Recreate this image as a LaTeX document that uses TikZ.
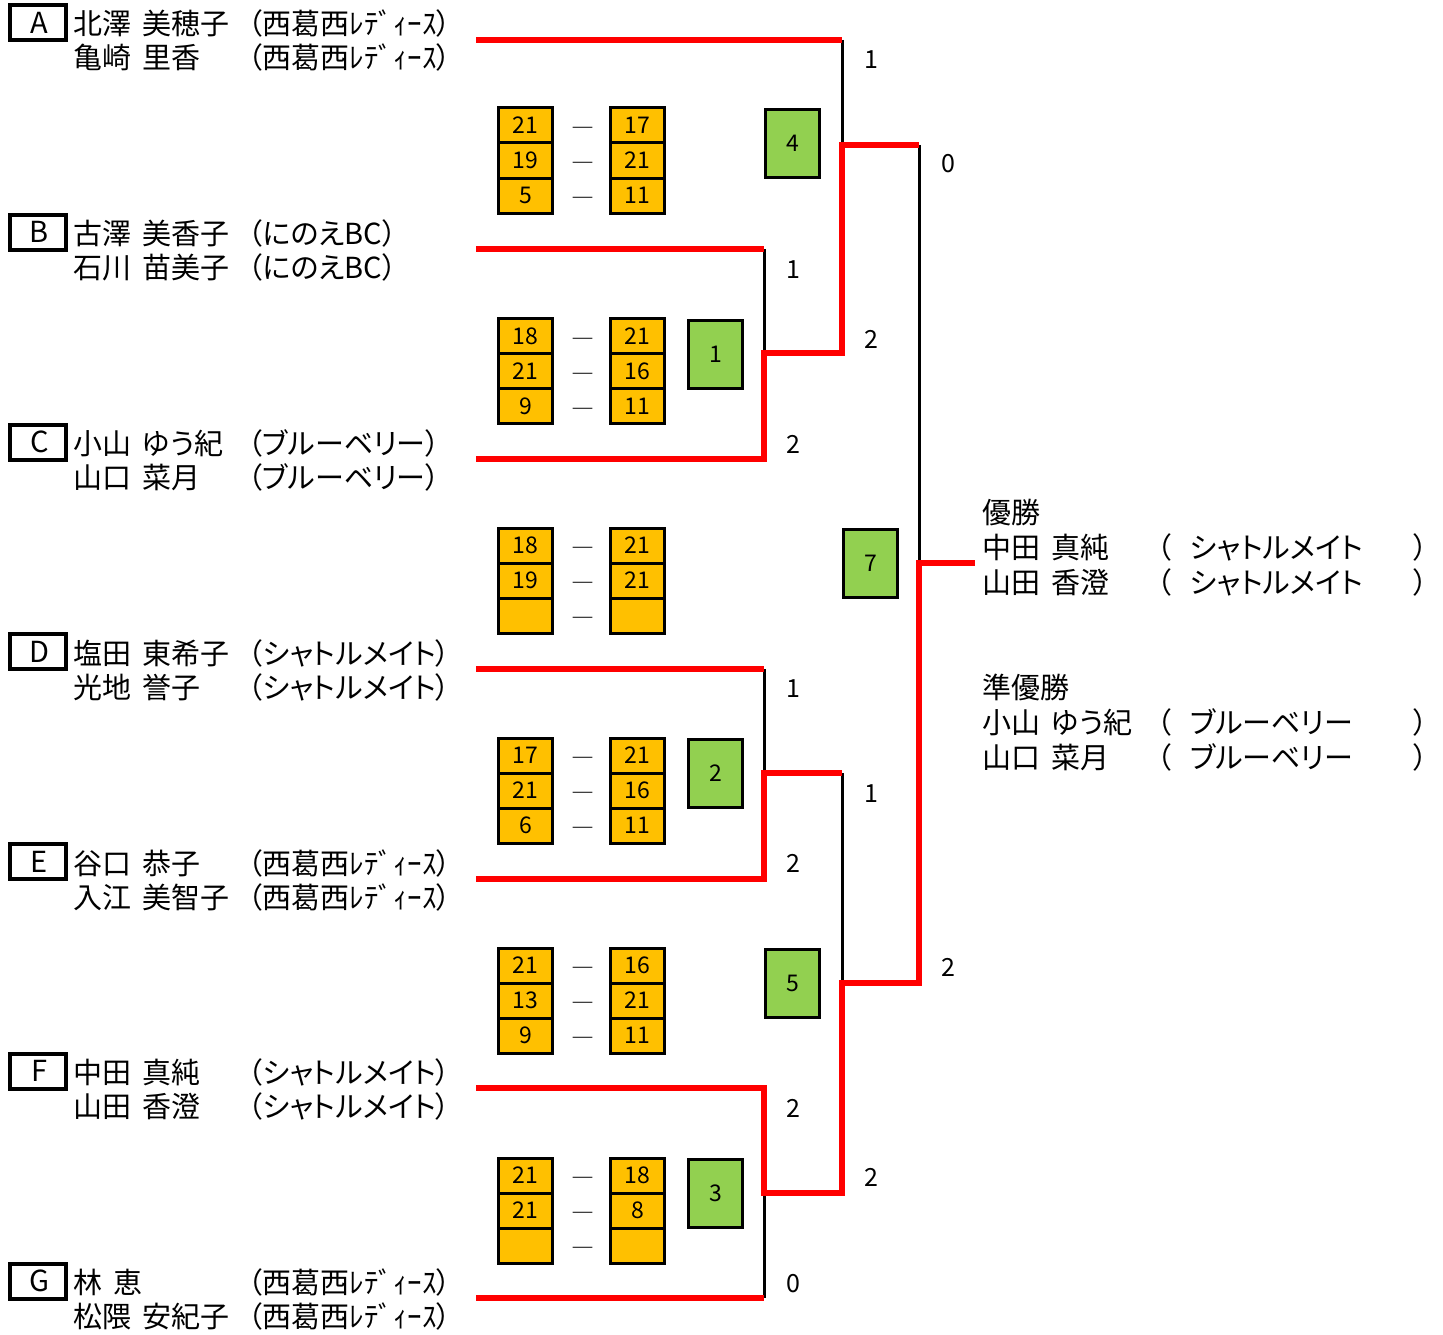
\documentclass[tikz,border=0pt]{standalone}
\usepackage{fontspec}
\setmainfont{Noto Sans CJK JP}[RawFeature=+palt]
\definecolor{scoreorange}{HTML}{FFC000}
\definecolor{wingreen}{HTML}{92D050}
\definecolor{bracketred}{HTML}{FF0000}
\newcommand\fsN{\fontsize{29}{34}\selectfont}
\newcommand\fsS{\fontsize{23}{27}\selectfont}
\newcommand\fsL{\fontsize{25}{29}\selectfont}
\newcommand\gap{\hspace{11pt}}
\begin{document}
\begin{tikzpicture}[x=1pt,y=-1pt,
  pltext/.style={inner sep=0pt, anchor=west, font=\fsN, text height=25.5pt, text depth=3.5pt},
  letterbox/.style={draw, line width=4pt, minimum width=56pt, minimum height=35pt, inner sep=0pt, font=\fsN},
  cell/.style={draw, line width=3pt, fill=scoreorange, minimum width=54pt, minimum height=35pt, inner sep=0pt, font=\fsS, text height=16.8pt, text depth=0pt},
  winbox/.style={draw, line width=3pt, fill=wingreen, minimum width=54pt, minimum height=68pt, inner sep=0pt, font=\fsS, text height=16.8pt, text depth=0pt},
  dashlbl/.style={inner sep=0pt, font=\fsS},
  lbl/.style={inner sep=0pt, font=\fsL, text height=18.3pt, text depth=0pt},
  redline/.style={draw=bracketred, line width=6pt, line join=miter},
  blackline/.style={draw=black, line width=3pt}]
\fill[white] (0,0) rectangle (1443,1335);
\useasboundingbox (0,0) rectangle (1443,1335);

% players
\foreach \L/\i/\na/\nb/\tm in {
  A/0/北澤\gap 美穂子/亀崎\gap 里香/（西葛西ﾚﾃﾞｨｰｽ）,
  B/1/古澤\gap 美香子/石川\gap 苗美子/（にのえBC）,
  C/2/小山\gap ゆう紀/山口\gap 菜月/（ブルーベリー）,
  D/3/塩田\gap 東希子/光地\gap 誉子/（シャトルメイト）,
  E/4/谷口\gap 恭子/入江\gap 美智子/（西葛西ﾚﾃﾞｨｰｽ）,
  F/5/中田\gap 真純/山田\gap 香澄/（シャトルメイト）,
  G/6/林\gap 恵/松隈\gap 安紀子/（西葛西ﾚﾃﾞｨｰｽ）}{
  \pgfmathsetmacro\yy{22.5+209.75*\i}
  \node[letterbox] (box\L) at (38,\yy) {\hspace{3pt}\L};
  \node[pltext] (n\L a) at (73,\yy+1.5) {\na};
  \node[pltext] (n\L b) at (73,\yy+35.5) {\nb};
  \node[pltext] (t\L a) at (248,\yy+1.5) {\tm};
  \node[pltext] (t\L b) at (248,\yy+35.5) {\tm};
}

% bracket coordinates
\coordinate (pA) at (476,40);   \coordinate (jA) at (842,40);
\coordinate (pB) at (476,249);  \coordinate (jB) at (764,249);
\coordinate (pC) at (476,459);  \coordinate (jC) at (764,459);
\coordinate (pD) at (476,669);  \coordinate (jD) at (764,669);
\coordinate (pE) at (476,879);  \coordinate (jE) at (764,879);
\coordinate (pF) at (476,1088); \coordinate (jF) at (764,1088);
\coordinate (pG) at (476,1298); \coordinate (jG) at (764,1298);
\coordinate (m1) at (764,353);  \coordinate (m1r) at (842,353);
\coordinate (m2) at (764,773);  \coordinate (m2r) at (842,773);
\coordinate (m3) at (764,1193); \coordinate (m3r) at (842,1193);
\coordinate (m4) at (842,145);  \coordinate (m4r) at (919,145);
\coordinate (m5) at (842,983);  \coordinate (m5r) at (919,983);
\coordinate (m7) at (919,563);  \coordinate (m7r) at (975,563);

% black (losing) lines
\draw[blackline] (jA) -- (m4);
\draw[blackline] (jB) -- (m1);
\draw[blackline] (jD) -- (m2);
\draw[blackline] (jG) -- (m3);
\draw[blackline] (m2r) -- (m5);
\draw[blackline] (m4r) -- (m7);

% red lines
\draw[redline] (pA) -- (jA);
\draw[redline] (pB) -- (jB);
\draw[redline] (pC) -- (jC) -- (m1) -- (m1r) -- (m4) -- (m4r);
\draw[redline] (pD) -- (jD);
\draw[redline] (pE) -- (jE) -- (m2) -- (m2r);
\draw[redline] (pF) -- (jF) -- (m3) -- (m3r) -- (m5) -- (m5r) -- (m7) -- (m7r);
\draw[redline] (pG) -- (jG);

% bracket score labels
\node[lbl] (sA)  at (871,59)   {1};
\node[lbl] (s4a) at (948,163)  {0};
\node[lbl] (sB)  at (793,269)  {1};
\node[lbl] (s1w) at (871,339)  {2};
\node[lbl] (sC)  at (793,444)  {2};
\node[lbl] (sD)  at (793,688)  {1};
\node[lbl] (s2w) at (871,793)  {1};
\node[lbl] (sE)  at (793,863)  {2};
\node[lbl] (s5w) at (948,967)  {2};
\node[lbl] (sF)  at (793,1108) {2};
\node[lbl] (s3w) at (871,1177) {2};
\node[lbl] (sG)  at (793,1283) {0};

% score tables
\foreach \m/\T/\a/\b/\c/\d/\e/\f/\gx/\num in {
  M4/108/21/17/19/21/5/11/792.5/4,
  M1/318.5/18/21/21/16/9/11/715.5/1,
  M7/528/18/21/19/21/{}/{}/870.5/7,
  M2/738/17/21/21/16/6/11/715.5/2,
  M5/948/21/16/13/21/9/11/792.5/5,
  M3/1158/21/18/21/8/{}/{}/715.5/3}{
  \node[cell] (\m l1) at (525.5,\T+17.5) {\a};
  \node[cell] (\m l2) at (525.5,\T+52.5) {\c};
  \node[cell] (\m l3) at (525.5,\T+87.5) {\e};
  \node[cell] (\m r1) at (637.5,\T+17.5) {\b};
  \node[cell] (\m r2) at (637.5,\T+52.5) {\d};
  \node[cell] (\m r3) at (637.5,\T+87.5) {\f};
  \node[dashlbl] (\m d1) at (583,\T+24) {―};
  \node[dashlbl] (\m d2) at (583,\T+59) {―};
  \node[dashlbl] (\m d3) at (583,\T+94) {―};
  \node[winbox] (\m w) at (\gx,\T+35.5) {\num};
}

% results
\node[pltext] (champ) at (982,512) {優勝};
\node[pltext] (ch1) at (982,547) {中田\gap 真純};
\node[pltext] (ch2) at (982,582) {山田\gap 香澄};
\node[pltext] (ch1o) at (1157,547) {（};
\node[pltext] (ch2o) at (1157,582) {（};
\node[pltext] (ch1t) at (1190,547) {シャトルメイト};
\node[pltext] (ch2t) at (1190,582) {シャトルメイト};
\node[pltext,anchor=east] (ch1c) at (1428,547) {）};
\node[pltext,anchor=east] (ch2c) at (1428,582) {）};
\node[pltext] (runner) at (982,687) {準優勝};
\node[pltext] (ru1) at (982,722) {小山\gap ゆう紀};
\node[pltext] (ru2) at (982,757) {山口\gap 菜月};
\node[pltext] (ru1o) at (1157,722) {（};
\node[pltext] (ru2o) at (1157,757) {（};
\node[pltext] (ru1t) at (1190,722) {ブルーベリー};
\node[pltext] (ru2t) at (1190,757) {ブルーベリー};
\node[pltext,anchor=east] (ru1c) at (1428,722) {）};
\node[pltext,anchor=east] (ru2c) at (1428,757) {）};
\end{tikzpicture}
\end{document}
